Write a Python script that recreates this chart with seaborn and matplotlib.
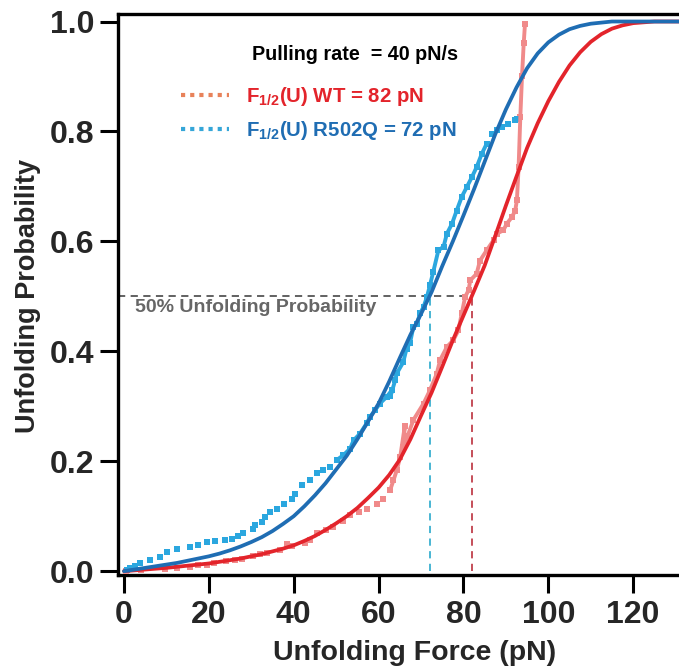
import numpy as np
import pandas as pd
import seaborn as sns
import matplotlib.pyplot as plt
from matplotlib.lines import Line2D

sns.set_style("ticks")
plt.rcParams['font.family'] = ['Liberation Sans', 'DejaVu Sans']
plt.rcParams['font.weight'] = 'bold'
plt.rcParams['mathtext.fontset'] = 'custom'
plt.rcParams['mathtext.rm'] = 'Liberation Sans:bold'
plt.rcParams['mathtext.bf'] = 'Liberation Sans:bold'
plt.rcParams['mathtext.default'] = 'bf'

# ============ data ============
# fitted curves
fit_force = [0, 2.5, 5, 7.5, 10, 12.5, 15, 17.5, 20, 22.5, 25, 27.5, 30, 32.5,
             35, 37.5, 40, 42.5, 45, 47.5, 50, 52.5, 55, 57.5, 60, 62.5, 65,
             67.5, 70, 72.5, 75, 77.5, 80, 82.5, 85, 87.5, 90, 92.5, 95, 97.5,
             100, 102.5, 105, 107.5, 110, 112.5, 115, 117.5, 120, 125, 131]
fit_wt = [0, 0.0015, 0.003, 0.0045, 0.006, 0.008, 0.010, 0.012, 0.014, 0.017,
          0.020, 0.023, 0.027, 0.031, 0.036, 0.041, 0.047, 0.055, 0.064,
          0.075, 0.087, 0.100, 0.115, 0.133, 0.152, 0.175, 0.203, 0.240,
          0.283, 0.325, 0.372, 0.420, 0.465, 0.510, 0.556, 0.610, 0.665,
          0.718, 0.770, 0.815, 0.855, 0.890, 0.920, 0.944, 0.963, 0.977,
          0.987, 0.993, 0.997, 1.0, 1.0]
fit_r502q = [0, 0.003, 0.006, 0.009, 0.012, 0.015, 0.019, 0.023, 0.027, 0.032,
             0.038, 0.045, 0.053, 0.062, 0.073, 0.086, 0.100, 0.118, 0.138,
             0.160, 0.185, 0.210, 0.240, 0.272, 0.305, 0.345, 0.388, 0.430,
             0.468, 0.508, 0.555, 0.600, 0.647, 0.695, 0.745, 0.795, 0.840,
             0.880, 0.915, 0.942, 0.962, 0.976, 0.986, 0.992, 0.996, 0.998,
             1.0, 1.0, 1.0, 1.0, 1.0]

# measured unfolding forces (empirical cumulative probability)
wt_force = [0.5, 4.0, 9.7, 12.5, 15.6, 17.5, 19.5, 21.1, 24.0, 26.2, 27.7, 30.5,
            32.1, 33.6, 36.8, 38.4, 39.5, 42.7, 43.8, 45.4, 47.5, 49.3, 51.5,
            53.3, 55.5, 57.2, 59.6, 61.1, 62.7, 63.5, 64.3, 65.1, 66.2, 65.8,
            66.8, 68.2, 70.6, 72.1, 73.7, 74.5, 76.1, 77.6, 78.8, 79.6, 80.4,
            81.2, 81.6, 83.1, 83.9, 85.5, 87.1, 87.8, 89.4, 90.2, 91.4, 92.2,
            92.6, 93.0, 93.4, 93.8, 94.2, 94.5]
wt_prob = [0.0, 0.002, 0.004, 0.005, 0.007, 0.011, 0.012, 0.014, 0.018, 0.020,
           0.023, 0.027, 0.032, 0.033, 0.038, 0.050, 0.045, 0.051, 0.056,
           0.069, 0.074, 0.081, 0.092, 0.102, 0.108, 0.114, 0.123, 0.132,
           0.147, 0.165, 0.184, 0.208, 0.265, 0.225, 0.245, 0.275, 0.305,
           0.329, 0.359, 0.384, 0.408, 0.42, 0.438, 0.469, 0.499, 0.511, 0.529,
           0.541, 0.565, 0.584, 0.602, 0.614, 0.62, 0.632, 0.644, 0.656, 0.675,
           0.735, 0.826, 0.90, 0.96, 0.995]
r502q_force = [0.6, 1.4, 2.6, 3.8, 6.1, 8.5, 10.1, 12.4, 15.6, 17.5, 19.5, 21.5,
               23.8, 25.4, 26.9, 28.1, 30.5, 30.9, 32.5, 33.2, 34.4, 36.0,
               37.6, 39.5, 40.3, 41.9, 43.8, 45.4, 47.0, 48.6, 50.1, 51.7, 53.3,
               54.1, 55.6, 57.2, 58.0, 59.2, 60.3, 61.9, 63.1, 62.8, 63.9, 64.3,
               65.8, 66.6, 67.4, 68.2, 69.0, 69.8, 70.6, 71.4, 72.1, 72.9, 74.1,
               75.3, 76.1, 77.3, 78.4, 79.6, 80.8, 82.0, 83.1, 84.3, 85.5, 86.7,
               87.8, 89.0, 90.6, 92.2, 92.7]
r502q_prob = [0.002, 0.005, 0.009, 0.014, 0.021, 0.026, 0.035, 0.041, 0.044,
              0.047, 0.053, 0.055, 0.056, 0.059, 0.064, 0.069, 0.076, 0.084,
              0.090, 0.099, 0.108, 0.114, 0.123, 0.132, 0.141, 0.156, 0.166,
              0.178, 0.184, 0.19, 0.202, 0.211, 0.223, 0.238, 0.25, 0.269,
              0.281, 0.293, 0.305, 0.317, 0.329, 0.318, 0.347, 0.36, 0.38,
              0.405, 0.415, 0.444, 0.45, 0.469, 0.481, 0.499, 0.52, 0.545,
              0.584, 0.59, 0.614, 0.632, 0.656, 0.681, 0.699, 0.717, 0.735,
              0.759, 0.778, 0.796, 0.802, 0.808, 0.814, 0.82, 0.823]

f_half_wt = 82
f_half_r502q = 72

fits = pd.DataFrame({'force': fit_force, 'WT': fit_wt, 'R502Q': fit_r502q})
wt = pd.DataFrame({'force': wt_force, 'prob': wt_prob})
mut = pd.DataFrame({'force': r502q_force, 'prob': r502q_prob})

c_wt_fit, c_mut_fit = '#e3242b', '#1f6db3'
c_wt_dat, c_mut_dat = '#f08a8a', '#2ba7df'

fig = plt.figure(figsize=(6.79, 6.68), dpi=100)
ax = fig.add_axes([0.1738, 0.1392, 0.8262, 0.8398])

xmin, xmax = -1.41, 130.8

# ============ 50% guide lines ============
ax.axhline(0.5, xmin=0, xmax=(f_half_wt - xmin) / (xmax - xmin),
           color='#555555', lw=1.3, ls=(0, (4, 3)))
ax.vlines(f_half_r502q, 0, 0.5, color='#3ab0d0', lw=1.3, ls=(0, (4, 3)))
ax.vlines(f_half_wt, 0, 0.5, color='#c0404c', lw=1.3, ls=(0, (4, 3)))

# ============ data ============
sns.scatterplot(x='force', y='prob', data=wt, ax=ax, color=c_wt_dat,
                marker='s', s=14, linewidth=0, legend=False, zorder=3)
sns.scatterplot(x='force', y='prob', data=mut, ax=ax, color=c_mut_dat,
                marker='s', s=14, linewidth=0, legend=False, zorder=3)
# dense parts of the measured curves read as solid traces
wt_hi = wt[wt['force'] >= 62]
mut_hi = mut[(mut['force'] >= 50) & (mut['force'] <= 86)]
ax.plot(wt_hi['force'], wt_hi['prob'], color=c_wt_dat, lw=2.8, zorder=3)
ax.plot(mut_hi['force'], mut_hi['prob'], color=c_mut_dat, lw=2.8, zorder=3)

sns.lineplot(x='force', y='WT', data=fits, ax=ax, color=c_wt_fit, lw=2.7,
             zorder=4)
sns.lineplot(x='force', y='R502Q', data=fits, ax=ax, color=c_mut_fit, lw=2.7,
             zorder=4)

# ============ axes ============
ax.set_xlim(xmin, xmax)
ax.set_ylim(-0.007, 1.0136)
ax.set_xticks(np.arange(0, 121, 20))
ax.set_yticks(np.arange(0, 1.01, 0.2))
ax.set_yticklabels([f'{v:.1f}' for v in np.arange(0, 1.01, 0.2)])
ax.tick_params(width=2.2, length=13, labelsize=23, pad=5, color='black')
ax.tick_params(axis='y', pad=4)
for s in ['left', 'bottom', 'top']:
    ax.spines[s].set_linewidth(2.4)
    ax.spines[s].set_color('black')
ax.spines['right'].set_visible(False)
ax.set_xlabel('Unfolding Force (pN)', fontsize=20.5, fontweight='bold')
ax.xaxis.set_label_coords(0.529, -0.115)
ax.set_ylabel('Unfolding Probability', fontsize=19.5, fontweight='bold')
ax.yaxis.set_label_coords(-0.137, 0.497)

ax.text(0.03, 0.476, '50% Unfolding Probability', transform=ax.transAxes,
        color='#666666', fontsize=14, fontweight='bold', va='center')
ax.text(0.238, 0.927, 'Pulling rate  = 40 pN/s', transform=ax.transAxes,
        color='black', fontsize=14.2, fontweight='bold', va='center')

handles = [Line2D([], [], color='#e8825a', lw=3, ls=(0, (1, 1.2))),
           Line2D([], [], color='#35a6d8', lw=3, ls=(0, (1, 1.2)))]
labels = [r'F$_{1/2}$(U) WT = 82 pN', r'F$_{1/2}$(U) R502Q = 72 pN']
leg = ax.legend(handles, labels, loc='upper left', borderpad=0,
                bbox_to_anchor=(0.094, 0.892), frameon=False, fontsize=14.7,
                handlelength=2.35, handletextpad=0.83, labelspacing=0.55)
for t, c in zip(leg.get_texts(), [c_wt_fit, c_mut_fit]):
    t.set_color(c)

plt.savefig('out.png', dpi=100)
